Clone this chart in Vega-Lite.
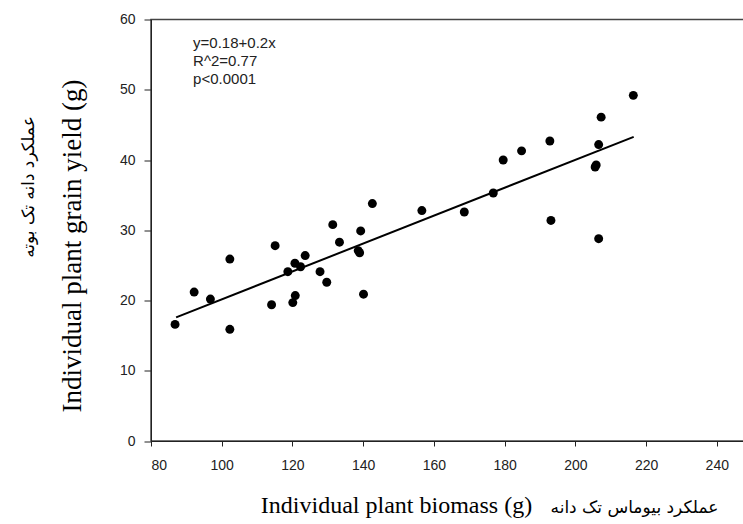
{
  "$schema": "https://vega.github.io/schema/vega-lite/v6.json",
  "width": 593,
  "height": 421.5,
  "autosize": {"type": "none"},
  "padding": {"left": 151, "top": 19.5, "right": 0, "bottom": 83},
  "background": "white",
  "config": {
    "view": {"stroke": "#444", "strokeWidth": 1.5},
    "axis": {
      "grid": false,
      "domainColor": "#222",
      "tickColor": "#222",
      "labelColor": "#222",
      "labelFont": "Liberation Sans",
      "labelFontSize": 14,
      "titleFont": "Liberation Serif",
      "titleFontWeight": "normal",
      "titleColor": "#000"
    }
  },
  "datasets": {
    "points": [
      {"biomass": 86.8, "yield": 16.6},
      {"biomass": 92.2, "yield": 21.2},
      {"biomass": 96.8, "yield": 20.2},
      {"biomass": 102.3, "yield": 25.9},
      {"biomass": 102.3, "yield": 15.9},
      {"biomass": 114.1, "yield": 19.4},
      {"biomass": 115.1, "yield": 27.8},
      {"biomass": 118.7, "yield": 24.1},
      {"biomass": 120.1, "yield": 19.7},
      {"biomass": 120.8, "yield": 20.7},
      {"biomass": 120.7, "yield": 25.3},
      {"biomass": 122.3, "yield": 24.8},
      {"biomass": 123.6, "yield": 26.4},
      {"biomass": 127.8, "yield": 24.1},
      {"biomass": 129.7, "yield": 22.6},
      {"biomass": 131.4, "yield": 30.8},
      {"biomass": 133.3, "yield": 28.3},
      {"biomass": 138.6, "yield": 27.1},
      {"biomass": 139.0, "yield": 26.8},
      {"biomass": 139.3, "yield": 29.9},
      {"biomass": 140.1, "yield": 20.9},
      {"biomass": 142.6, "yield": 33.8},
      {"biomass": 156.6, "yield": 32.8},
      {"biomass": 168.6, "yield": 32.6},
      {"biomass": 176.8, "yield": 35.3},
      {"biomass": 179.6, "yield": 40.0},
      {"biomass": 184.8, "yield": 41.3},
      {"biomass": 192.8, "yield": 42.7},
      {"biomass": 193.1, "yield": 31.4},
      {"biomass": 205.6, "yield": 39.0},
      {"biomass": 205.9, "yield": 39.3},
      {"biomass": 206.6, "yield": 42.2},
      {"biomass": 207.3, "yield": 46.1},
      {"biomass": 206.6, "yield": 28.8},
      {"biomass": 216.4, "yield": 49.2}
    ],
    "fit": [
      {"biomass": 87.1, "yield": 17.6},
      {"biomass": 216.5, "yield": 43.3}
    ]
  },
  "resolve": {"axis": {"x": "independent", "y": "independent"}},
  "layer": [
    {
      "data": {"name": "points"},
      "mark": {"type": "point", "filled": true, "shape": "circle", "size": 80, "color": "#000", "opacity": 1},
      "encoding": {
        "x": {
          "field": "biomass", "type": "quantitative",
          "scale": {"domain": [80, 247.7], "nice": false, "zero": false},
          "axis": {
            "orient": "bottom",
            "values": [80, 100, 120, 140, 160, 180, 200, 220, 240],
            "tickSize": 5, "labelPadding": 12,
            "title": "Individual plant biomass (g)",
            "titleFontSize": 24,
            "titleX": 245, "titleY": 71,
            "titleAlign": "center", "titleBaseline": "alphabetic"
          }
        },
        "y": {
          "field": "yield", "type": "quantitative",
          "scale": {"domain": [0, 60], "nice": false, "zero": false},
          "axis": {
            "orient": "left",
            "values": [0, 10, 20, 30, 40, 50, 60],
            "tickSize": 7, "labelPadding": 9,
            "title": "Individual plant grain yield (g)",
            "titleFontSize": 27,
            "titleAngle": 270,
            "titleX": -79, "titleY": 226,
            "titleAlign": "center", "titleBaseline": "middle"
          }
        }
      }
    },
    {
      "data": {"name": "fit"},
      "mark": {"type": "line", "color": "#000", "strokeWidth": 2},
      "encoding": {
        "x": {
          "field": "biomass", "type": "quantitative",
          "axis": {
            "orient": "bottom",
            "labels": false, "ticks": false, "domain": false,
            "title": "عملکرد بیوماس تک دانه",
            "titleFont": "DejaVu Sans",
            "titleFontSize": 17,
            "titleX": 483, "titleY": 71,
            "titleAlign": "center", "titleBaseline": "alphabetic"
          }
        },
        "y": {
          "field": "yield", "type": "quantitative",
          "axis": {
            "orient": "left",
            "labels": false, "ticks": false, "domain": false,
            "title": "عملکرد دانه تک بوته",
            "titleFont": "DejaVu Sans",
            "titleFontSize": 17,
            "titleAngle": 270,
            "titleX": -123, "titleY": 167,
            "titleAlign": "center", "titleBaseline": "middle"
          }
        }
      }
    },
    {
      "data": {"values": [{}]},
      "mark": {
        "type": "text",
        "text": ["y=0.18+0.2x", "R^2=0.77", "p<0.0001"],
        "align": "left",
        "baseline": "alphabetic",
        "lineHeight": 18,
        "font": "Liberation Sans",
        "fontSize": 15,
        "color": "#222"
      },
      "encoding": {
        "x": {"datum": 91.9, "type": "quantitative", "axis": null},
        "y": {"datum": 55.9, "type": "quantitative", "axis": null}
      }
    }
  ]
}
